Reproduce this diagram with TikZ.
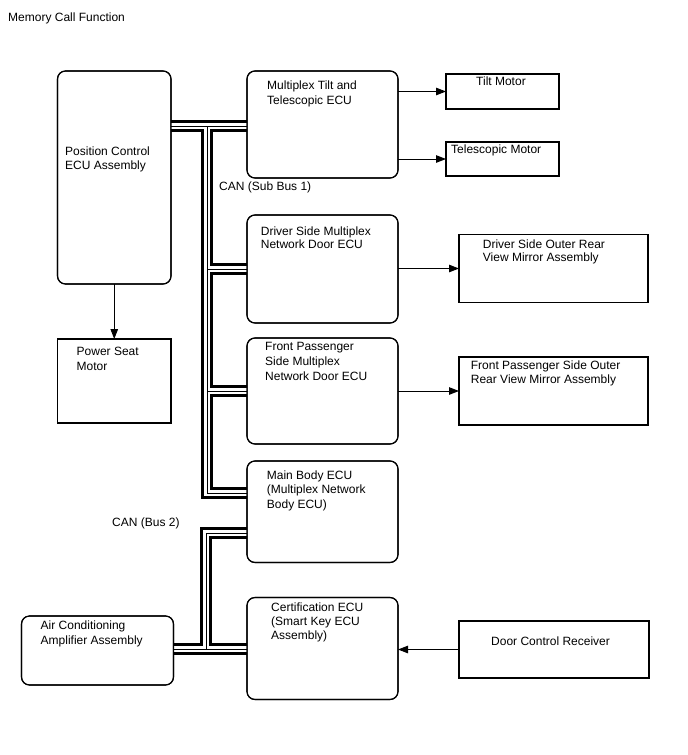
\documentclass[tikz,border=0pt]{standalone}
\usepackage{fontspec}
\setmainfont{Liberation Sans}
\usetikzlibrary{arrows.meta}
\begin{document}
\begin{tikzpicture}[x=1pt,y=-1pt,
  ecu/.style={draw=black,line width=1.1pt,rounded corners=8pt,fill=white,anchor=north west,inner sep=0pt,outer sep=0pt},
  dev/.style={draw=black,line width=1.1pt,fill=white,anchor=north west,inner sep=0pt,outer sep=0pt},
  lbl/.style={anchor=base west,inner sep=0pt,align=left,font=\fontsize{12}{14.5}\selectfont},
  arr/.style={line width=1pt,-{Triangle[length=10pt,width=7.5pt]}},
  busA/.style={line width=12pt,black,line join=miter},
  busB/.style={line width=6pt,white,line join=miter},
  busC/.style={line width=0.9pt,black,line join=miter},
]
\useasboundingbox[fill=white] (0,0) rectangle (688,755);

% coordinates of bus junctions
\coordinate (b1) at (207,126);
\coordinate (b2) at (207,269);
\coordinate (b3) at (207,391);
\coordinate (b4) at (207,493);
\coordinate (c1) at (206,533);
\coordinate (c2) at (206,649);

% boxes
\path
  node[ecu,minimum width=113.5,minimum height=213] (pce) at (57.5,71) {}
  node[dev,minimum width=113.5,minimum height=84] (seat) at (57.5,339) {}
  node[ecu,minimum width=151,minimum height=107] (tecu) at (247,71) {}
  node[dev,minimum width=113,minimum height=35] (tiltm) at (446,74) {}
  node[dev,minimum width=113,minimum height=34] (telem) at (446,142) {}
  node[ecu,minimum width=151,minimum height=108] (decu) at (247,215) {}
  node[dev,minimum width=189,minimum height=68] (dmir) at (459,234.5) {}
  node[ecu,minimum width=151,minimum height=106] (fecu) at (247,338) {}
  node[dev,minimum width=189,minimum height=68] (fmir) at (459,357) {}
  node[ecu,minimum width=151,minimum height=101.5] (mecu) at (247,461) {}
  node[ecu,minimum width=152,minimum height=69] (acamp) at (21.5,616) {}
  node[ecu,minimum width=151,minimum height=102] (cecu) at (247,597.5) {}
  node[dev,minimum width=190,minimum height=57] (dcr) at (459,621) {};

% CAN buses: black, white, thin centre line
\foreach \s in {busA,busB,busC}{
  \draw[\s] (pce.east |- b1) -- (tecu.west |- b1);
  \draw[\s] (b1) -- (b4) -- (mecu.west |- b4);
  \draw[\s] (b2) -- (decu.west |- b2);
  \draw[\s] (b3) -- (fecu.west |- b3);
  \draw[\s] (mecu.west |- c1) -- (c1) -- (c2);
  \draw[\s] (acamp.east |- c2) -- (cecu.west |- c2);
}

% redraw box borders on top
\foreach \n in {pce,tecu,decu,fecu,mecu,acamp,cecu}{
  \draw[line width=1.1pt,rounded corners=8pt] (\n.north west) rectangle (\n.south east);
}

% arrows
\draw[arr] (pce.south) -- (seat.north);
\draw[arr] (tecu.east |- tiltm.west) -- (tiltm.west);
\draw[arr] (tecu.east |- telem.west) -- (telem.west);
\draw[arr] (decu.east |- dmir.west) -- (dmir.west);
\draw[arr] (fecu.east |- fmir.west) -- (fmir.west);
\draw[arr] (dcr.west) -- (cecu.east |- dcr.west);

% labels (base anchor = baseline of the last line)
\node[lbl] (title) at (8,21.5) {Memory Call Function};
\node[lbl] (tpce) at (65,169.5) {Position Control\\ECU Assembly};
\node[lbl] (tseat) at (76.5,370.2) {Power Seat\\Motor};
\node[lbl] (ttecu) at (267,104) {Multiplex Tilt and\\Telescopic ECU};
\node[lbl] (ttilt) at (476,85) {Tilt Motor};
\node[lbl] (ttele) at (451,153.3) {Telescopic Motor};
\node[lbl] (can1) at (219,190) {CAN (Sub Bus 1)};
\node[lbl,font=\fontsize{12}{13.4}\selectfont] (tdecu) at (260.7,248.7) {Driver Side Multiplex\\Network Door ECU};
\node[lbl,font=\fontsize{12}{13.4}\selectfont] (tdmir) at (482.7,261.7) {Driver Side Outer Rear\\View Mirror Assembly};
\node[lbl,font=\fontsize{12}{15}\selectfont] (tfecu) at (265,380) {Front Passenger\\Side Multiplex\\Network Door ECU};
\node[lbl,font=\fontsize{12}{14}\selectfont] (tfmir) at (470.7,383.3) {Front Passenger Side Outer\\Rear View Mirror Assembly};
\node[lbl] (tmecu) at (266.7,508.3) {Main Body ECU\\(Multiplex Network\\Body ECU)};
\node[lbl] (can2) at (112,526) {CAN (Bus 2)};
\node[lbl] (tac) at (40.5,644) {Air Conditioning\\Amplifier Assembly};
\node[lbl,font=\fontsize{12}{14}\selectfont] (tcecu) at (271,639.5) {Certification ECU\\(Smart Key ECU\\Assembly)};
\node[lbl] (tdcr) at (491,645) {Door Control Receiver};
\end{tikzpicture}
\end{document}
